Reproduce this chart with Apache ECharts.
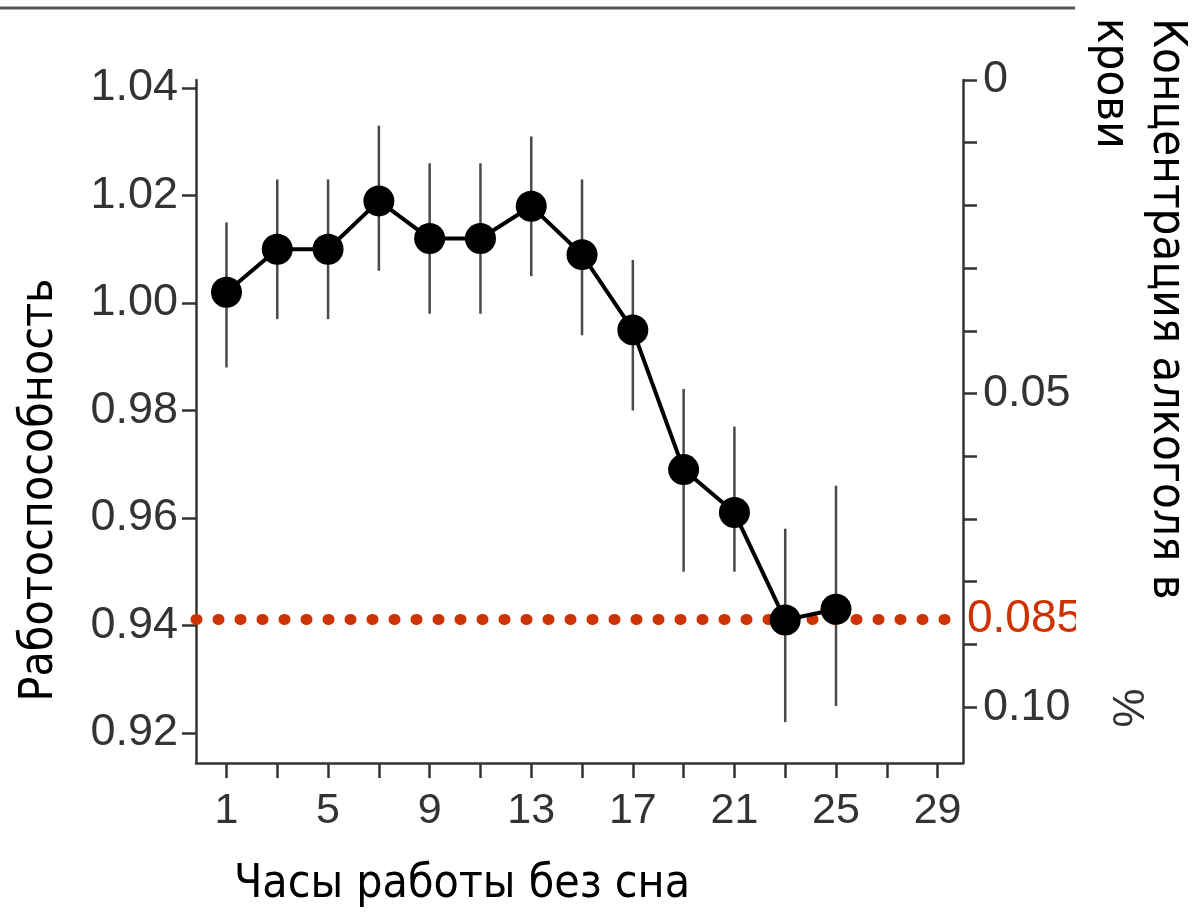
<!DOCTYPE html>
<html>
<head>
<meta charset="utf-8">
<script src="https://cdn.jsdelivr.net/npm/echarts@6/dist/echarts.min.js"></script>
<style>
  html, body { margin: 0; padding: 0; background: #fff; }
  #chart { width: 1197px; height: 912px; }
</style>
</head>
<body>
<div id="chart"></div>
<script>
// часы без сна и средняя работоспособность
var hours = [1, 3, 5, 7, 9, 11, 13, 15, 17, 19, 21, 23, 25];
var performance = [1.002, 1.010, 1.010, 1.019, 1.012, 1.012, 1.018, 1.009, 0.995, 0.969, 0.961, 0.941, 0.943];
var errLow = [0.988, 0.997, 0.997, 1.006, 0.998, 0.998, 1.005, 0.994, 0.980, 0.950, 0.950, 0.922, 0.925];
var errHigh = [1.015, 1.023, 1.023, 1.033, 1.026, 1.026, 1.031, 1.023, 1.008, 0.984, 0.977, 0.958, 0.966];

// порог алкоголя (правая ось)
var alcoholLimit = 0.086;
var alcoholLabel = '0.085';

// деления осей
var xTicks = [1, 3, 5, 7, 9, 11, 13, 15, 17, 19, 21, 23, 25, 27, 29];
var xLabels = [1, 5, 9, 13, 17, 21, 25, 29];
var leftTicks = [0.92, 0.94, 0.96, 0.98, 1.00, 1.02, 1.04];
var rightTicks = [0, 0.01, 0.02, 0.03, 0.04, 0.05, 0.06, 0.07, 0.08, 0.09, 0.10];
var rightLabels = [0, 0.05, 0.10];

var axisColor = '#333';
var labelFont = 'Liberation Sans, Arial, sans-serif';
var titleFont = 'DejaVu Sans Condensed, DejaVu Sans, sans-serif';
var xMin = -0.2, xMax = 30;

var chart = echarts.init(document.getElementById('chart'));

var points = hours.map(function (h, i) { return [h, performance[i]]; });
var bars = hours.map(function (h, i) { return [h, errLow[i], errHigh[i]]; });

var option = {
    backgroundColor: '#fff',
    animation: false,
    grid: { left: 196, right: 234, top: 80, bottom: 149, containLabel: false },
    xAxis: {
        type: 'value',
        min: xMin,
        max: xMax,
        splitLine: { show: false },
        axisLine: { show: true, onZero: false, lineStyle: { color: axisColor, width: 2.5 } },
        axisTick: { show: true, customValues: xTicks, length: 15, lineStyle: { color: axisColor, width: 2.5 } },
        axisLabel: { customValues: xLabels, fontSize: 43, color: '#333', fontFamily: labelFont, margin: 27 }
    },
    yAxis: [
        {
            type: 'value',
            position: 'left',
            min: 0.9144,
            max: 1.0415,
            splitLine: { show: false },
            axisLine: { show: true, onZero: false, lineStyle: { color: axisColor, width: 2.5 } },
            axisTick: { show: true, customValues: leftTicks, length: 14, lineStyle: { color: axisColor, width: 2.5 } },
            axisLabel: {
                customValues: leftTicks, fontSize: 45, color: '#333', fontFamily: labelFont, margin: 18,
                formatter: function (v) { return v.toFixed(2); }
            }
        },
        {
            type: 'value',
            position: 'right',
            inverse: true,
            min: 0,
            max: 0.1089,
            splitLine: { show: false },
            axisLine: { show: true, onZero: false, lineStyle: { color: axisColor, width: 2.5 } },
            axisTick: { show: true, customValues: rightTicks, length: 14, lineStyle: { color: axisColor, width: 2.5 } },
            axisLabel: {
                customValues: rightLabels, fontSize: 45, color: '#333', fontFamily: labelFont, margin: 20,
                formatter: function (v) { return v === 0 ? '0' : v.toFixed(2); }
            }
        }
    ],
    series: [
        {
            // усы погрешности
            type: 'custom',
            yAxisIndex: 0,
            data: bars,
            z: 2,
            renderItem: function (params, api) {
                var top = api.coord([api.value(0), api.value(2)]);
                var bottom = api.coord([api.value(0), api.value(1)]);
                return {
                    type: 'line',
                    shape: { x1: top[0], y1: top[1], x2: bottom[0], y2: bottom[1] },
                    style: { stroke: '#4a4a4a', lineWidth: 2.5 }
                };
            }
        },
        {
            // красная пунктирная линия порога
            type: 'line',
            yAxisIndex: 1,
            data: [[xMin, alcoholLimit], [xMax, alcoholLimit]],
            z: 3,
            silent: true,
            symbol: 'none',
            lineStyle: { color: '#cc3300', width: 11, type: [1, 21], cap: 'round' },
            endLabel: {
                show: true, distance: 4,
                formatter: alcoholLabel, color: '#cc3300', fontSize: 46, fontFamily: labelFont
            }
        },
        {
            type: 'line',
            yAxisIndex: 0,
            data: points,
            z: 4,
            symbol: 'circle',
            symbolSize: 31,
            lineStyle: { color: '#000', width: 4 },
            itemStyle: { color: '#000' }
        }
    ],
    graphic: [
        {
            type: 'line',
            shape: { x1: 0, y1: 8, x2: 1075, y2: 8 },
            style: { stroke: '#555', lineWidth: 3 }
        },
        {
            // обрезка подписи справа, как на исходнике
            type: 'rect',
            z: 100,
            shape: { x: 1076, y: 590, width: 30, height: 60 },
            style: { fill: '#fff' }
        },
        {
            type: 'text',
            x: 40, y: 490,
            rotation: Math.PI / 2,
            style: {
                text: 'Работоспособность', fontSize: 46, fontFamily: titleFont,
                fill: '#000', textAlign: 'center', textVerticalAlign: 'middle'
            }
        },
        {
            type: 'text',
            x: 1194, y: 18,
            rotation: -Math.PI / 2,
            style: {
                text: 'Концентрация алкоголя в\nкрови', fontSize: 47, fontFamily: titleFont,
                lineHeight: 56, fill: '#000', textAlign: 'left', textVerticalAlign: 'top'
            }
        },
        {
            type: 'text',
            x: 1125, y: 708,
            rotation: -Math.PI / 2,
            style: {
                text: '%', fontSize: 44, fontFamily: labelFont,
                fill: '#333', textAlign: 'center', textVerticalAlign: 'middle'
            }
        },
        {
            type: 'text',
            x: 234, y: 885,
            style: {
                text: 'Часы работы без сна', fontSize: 46, fontFamily: titleFont,
                fill: '#000', textAlign: 'left', textVerticalAlign: 'middle'
            }
        }
    ]
};

chart.setOption(option);
</script>
</body>
</html>
